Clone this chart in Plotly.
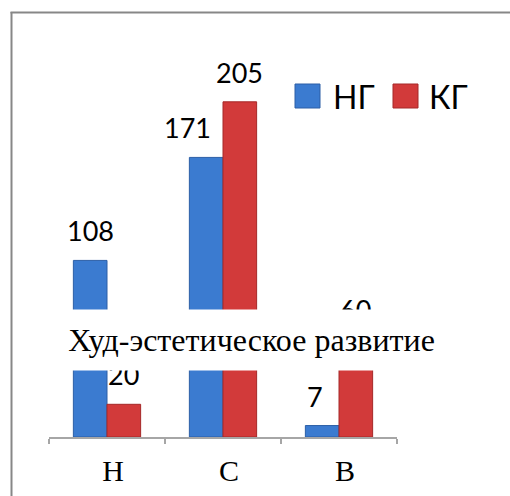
import plotly.graph_objects as go

W, H = 510, 496

categories = ["Н", "С", "В"]
series_names = ["НГ", "КГ"]
values_ng = [108, 171, 7]
values_kg = [20, 205, 60]
colors = ["#3b7bd0", "#d23a3a"]
edge_colors = ["#2c5fa6", "#a52828"]
# per-label horizontal nudges (px), as Excel moved two labels
nudge_ng = [0, -19, -7]
nudge_kg = [0, 0, 0]

title_text = "Худ-эстетическое развитие"

def px_x(p):
    return p / W

def px_y(p):
    return 1 - p / H

fig = go.Figure()
for name, vals, col, ec in zip(series_names, [values_ng, values_kg], colors, edge_colors):
    fig.add_trace(go.Bar(
        x=categories, y=vals, name=name,
        marker=dict(color=col, line=dict(color=ec, width=1)),
        showlegend=False, hoverinfo="skip",
    ))

annotations = []
# value labels
half = 116 * 0.58 / 4
for si, (vals, nud) in enumerate(zip([values_ng, values_kg], [nudge_ng, nudge_kg])):
    sgn = -1 if si == 0 else 1
    for c, v, n in zip(categories, vals, nud):
        annotations.append(dict(
            x=c, y=v, xref="x", yref="y", text=str(v), showarrow=False,
            xanchor="center", yanchor="bottom", xshift=sgn * half + n, yshift=11,
            font=dict(family="Lato", size=27, color="#000000"),
        ))

# title box overlapping the bars
annotations.append(dict(
    x=px_x(251), y=px_y(340), xref="paper", yref="paper",
    text=title_text, showarrow=False, xanchor="center", yanchor="middle",
    width=395, height=60, bgcolor="#ffffff", borderpad=0,
    font=dict(family="Liberation Serif", size=32, color="#000000"),
))

# legend (drawn manually for large swatches)
shapes = []
leg_sw_x = [295, 393]
leg_tx_x = [331, 427]
for name, col, ec, sx, tx in zip(series_names, colors, edge_colors, leg_sw_x, leg_tx_x):
    shapes.append(dict(type="rect", xref="paper", yref="paper",
                       x0=px_x(sx), x1=px_x(sx + 25), y0=px_y(108), y1=px_y(84),
                       fillcolor=col, line=dict(color=ec, width=1)))
    annotations.append(dict(
        x=px_x(tx), y=px_y(96), xref="paper", yref="paper", text=name,
        showarrow=False, xanchor="left", yanchor="middle",
        font=dict(family="Lato", size=32, color="#000000"),
    ))

# outer chart frame (left and top edges visible)
shapes.append(dict(type="line", xref="paper", yref="paper",
                   x0=px_x(11.5), x1=px_x(11.5), y0=0, y1=px_y(12),
                   line=dict(color="#878787", width=2)))
shapes.append(dict(type="line", xref="paper", yref="paper",
                   x0=px_x(10.5), x1=1.0, y0=px_y(12.5), y1=px_y(12.5),
                   line=dict(color="#878787", width=2)))

fig.update_layout(
    width=W, height=H,
    margin=dict(l=0, r=0, t=0, b=0),
    paper_bgcolor="#ffffff", plot_bgcolor="#ffffff",
    barmode="group", bargap=0.42, bargroupgap=0,
    annotations=annotations, shapes=shapes,
    xaxis=dict(
        domain=[px_x(49), px_x(397)],
        showline=True, linecolor="#a6a6a6", linewidth=1.5,
        ticks="outside", tickson="boundaries", ticklen=5, tickcolor="#a6a6a6", tickwidth=1.5,
        tickfont=dict(family="Liberation Serif", size=30, color="#000000"),
        ticklabelstandoff=6, ticklabelshift=6,
        showgrid=False, zeroline=False, fixedrange=True,
    ),
    yaxis=dict(
        domain=[px_y(437), px_y(28.25)],
        range=[0, 250], visible=False, showgrid=False, zeroline=False, fixedrange=True,
    ),
    showlegend=False,
    hovermode=False,
)

fig.write_html(
    "out.html",
    config={"displayModeBar": False, "staticPlot": True},
    post_script="document.body.style.margin='0';document.body.style.overflow='hidden';",
)
